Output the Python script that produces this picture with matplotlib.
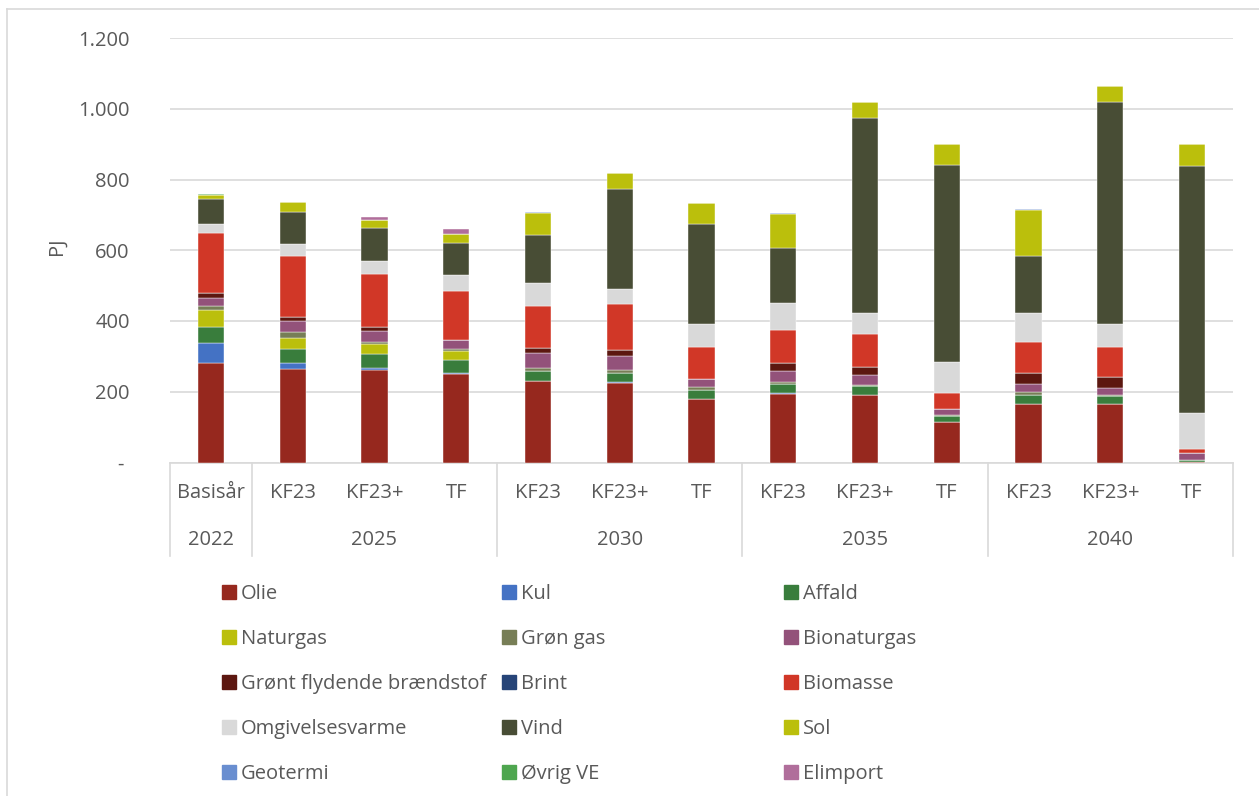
import matplotlib.pyplot as plt
from matplotlib.lines import Line2D
from matplotlib.patches import Rectangle
from matplotlib.transforms import blended_transform_factory

plt.rcParams['font.family'] = ['Open Sans', 'DejaVu Sans']

# kategorier (scenarie pr. år)
scenarier = ['Basisår', 'KF23', 'KF23+', 'TF', 'KF23', 'KF23+', 'TF',
             'KF23', 'KF23+', 'TF', 'KF23', 'KF23+', 'TF']
aar = ['2022', '2025', '2030', '2035', '2040']
aar_pos = [0, 2, 5, 8, 11]
skillelinjer = [-0.5, 0.5, 3.5, 6.5, 9.5, 12.5]

# energiforbrug i PJ
olie = [280, 265, 261, 249, 231, 226, 179, 195, 190, 115, 165, 164, 1]
kul = [58, 15, 5, 4, 0, 1, 0, 1, 2, 0, 1, 1, 0]
affald = [45, 40, 40, 38, 29, 27, 26, 25, 25, 17, 24, 22, 5]
naturgas = [49, 32, 29, 25, 0, 0, 0, 0, 0, 0, 0, 0, 0]
groen_gas = [9, 17, 7, 6, 8, 8, 8, 6, 3, 3, 10, 4, 2]
bionaturgas = [24, 32, 29, 23, 41, 40, 24, 33, 28, 16, 23, 21, 20]
groent_flydende = [14, 11, 13, 0, 16, 16, 0, 21, 21, 0, 29, 29, 0]
brint = [0, 0, 0, 0, 0, 0, 0, 0, 0, 0, 0, 0, 0]
biomasse = [170, 173, 150, 141, 116, 131, 90, 94, 93, 46, 90, 85, 9]
omgivelsesvarme = [24, 34, 37, 43, 66, 42, 64, 77, 60, 87, 81, 66, 104]
vind = [73, 88, 91, 92, 137, 283, 283, 154, 551, 556, 162, 628, 696]
sol = [11, 28, 23, 25, 62, 44, 60, 97, 45, 61, 129, 45, 62]
geotermi = [0, 0, 0, 0, 2, 0, 0, 1.5, 0, 0, 3, 0, 0]
oevrig_ve = [2, 2, 1, 0, 0, 0, 0, 0, 0, 0, 0, 0, 0]
elimport = [0, 0, 8, 15, 0, 0, 0, 0, 0, 0, 0, 0, 0]

y_ticks = [0, 200, 400, 600, 800, 1000, 1200]
y_labels = ['- ', '200', '400', '600', '800', '1.000', '1.200']

serier = [
    ('Olie', olie, '#96281e'),
    ('Kul', kul, '#4472c4'),
    ('Affald', affald, '#397d3c'),
    ('Naturgas', naturgas, '#bbbf0c'),
    ('Grøn gas', groen_gas, '#777e56'),
    ('Bionaturgas', bionaturgas, '#93527a'),
    ('Grønt flydende brændstof', groent_flydende, '#5c1710'),
    ('Brint', brint, '#264478'),
    ('Biomasse', biomasse, '#d13727'),
    ('Omgivelsesvarme', omgivelsesvarme, '#d9d9d9'),
    ('Vind', vind, '#484d35'),
    ('Sol', sol, '#bbbf0c'),
    ('Geotermi', geotermi, '#698ed0'),
    ('Øvrig VE', oevrig_ve, '#4ea64f'),
    ('Elimport', elimport, '#b06e9b'),
]

W, H = 1259, 796
tekstfarve = '#595959'
gitter = '#d9d9d9'
fs = 14.5

fig = plt.figure(figsize=(W / 100, H / 100), dpi=100)
ax = fig.add_axes([170 / W, 1 - 462.5 / H, (1233 - 170) / W, (462.5 - 38) / H])

x = list(range(len(scenarier)))
bund = [0] * len(scenarier)
for navn, vaerdier, farve in serier:
    ax.bar(x, vaerdier, width=0.32, bottom=bund, color=farve,
           edgecolor='white', linewidth=0.3, zorder=3)
    bund = [b + v for b, v in zip(bund, vaerdier)]

ax.set_xlim(-0.5, 12.5)
ax.set_ylim(0, 1200)
ax.set_yticks(y_ticks)
ax.set_yticklabels(y_labels)
ax.tick_params(axis='y', length=0, pad=29, labelsize=fs, labelcolor=tekstfarve)
ax.set_xticks([])
ax.grid(axis='y', color=gitter, linewidth=1.2, zorder=0)
for s in ['top', 'right', 'left']:
    ax.spines[s].set_visible(False)
ax.spines['bottom'].set_color(gitter)
ax.spines['bottom'].set_linewidth(1.2)
ax.set_ylabel('PJ', fontsize=fs, color=tekstfarve)
ax.yaxis.set_label_coords((67 - 170) / 1063, 0.51)

# kategoriakse i to niveauer
trans = blended_transform_factory(ax.transData, fig.transFigure)
for i, s in enumerate(scenarier):
    ax.text(i, 1 - 493 / H, s, transform=trans, ha='center', va='center',
            fontsize=fs, color=tekstfarve)
for p, a in zip(aar_pos, aar):
    ax.text(p, 1 - 540 / H, a, transform=trans, ha='center', va='center',
            fontsize=fs, color=tekstfarve)
for xs in skillelinjer:
    ax.add_line(Line2D([xs, xs], [1 - 462.5 / H, 1 - 556 / H], transform=trans,
                       color=gitter, linewidth=1.2, clip_on=False))

# forklaring, 3 kolonner
kol_x = [222, 502, 784]
for k, (navn, _, farve) in enumerate(serier):
    r, c = divmod(k, 3)
    yc = 591.5 + r * 45
    fig.patches.append(Rectangle((kol_x[c] / W, 1 - (yc + 7) / H), 14 / W, 14 / H,
                                 transform=fig.transFigure, color=farve))
    fig.text((kol_x[c] + 19) / W, 1 - yc / H, navn, ha='left', va='center_baseline',
             fontsize=fs, color=tekstfarve)

# diagramramme
fig.add_artist(Line2D([7 / W, 7 / W], [0, 1 - 9 / H], color=gitter, linewidth=1.2))
fig.add_artist(Line2D([7 / W, 1], [1 - 9 / H, 1 - 9 / H], color=gitter, linewidth=1.2))

fig.savefig('out.png', dpi=100)
